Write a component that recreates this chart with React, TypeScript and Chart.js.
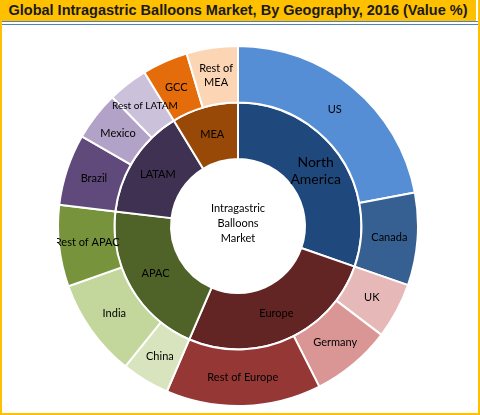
import React, { useEffect, useRef } from "react";
import { Chart, registerables } from "chart.js";

Chart.register(...registerables);

const outerLabels = [
  "US", "Canada", "UK", "Germany", "Rest of Europe", "China", "India",
  "Rest of APAC", "Brazil", "Mexico", "Rest of LATAM", "GCC", "Rest of\nMEA",
];
const outerValues = [22.0, 8.3, 5.0, 7.2, 13.9, 4.3, 8.8, 7.3, 6.4, 4.4, 3.6, 4.1, 4.6];
const outerColors = [
  "#558ED5", "#376092", "#E6B9B8", "#D99694", "#953735", "#D7E4BD", "#C3D69B",
  "#77933C", "#604A7B", "#B3A2C7", "#CCC1DA", "#E46C0A", "#FCD5B5",
];

const innerLabels = ["North\nAmerica", "Europe", "APAC", "LATAM", "MEA"];
const innerValues = [30.3, 26.1, 20.4, 14.4, 8.7];
const innerColors = ["#1F497D", "#632523", "#4F6228", "#3F3151", "#984807"];

const centerText = ["Intragastric", "Balloons", "Market"];
const titleText = "Global Intragastric Balloons Market, By Geography, 2016 (Value %)";

const FONT = "Lato, 'Open Sans', sans-serif";

const labelPlugin = {
  id: "arcLabels",
  afterDatasetsDraw(chart: any) {
    const ctx = chart.ctx;
    ctx.save();
    ctx.textAlign = "center";
    ctx.textBaseline = "middle";
    ctx.fillStyle = "#000";
    chart.data.datasets.forEach((ds: any, di: number) => {
      const meta = chart.getDatasetMeta(di);
      meta.data.forEach((arc: any, i: number) => {
        const text: string = ds.labelTexts[i] as string;
        const p = arc.tooltipPosition();
        let size = 11;
        if (text.startsWith("North")) size = 14;
        if (text === "Rest of LATAM") size = 10;
        ctx.font = `${size}px ${FONT}`;
        const lines = text.split("\n");
        const lh = size + 3;
        lines.forEach((ln, k) => {
          ctx.fillText(ln, p.x, p.y + (k - (lines.length - 1) / 2) * lh);
        });
      });
    });
    const cx = (chart.chartArea.left + chart.chartArea.right) / 2;
    const cy = (chart.chartArea.top + chart.chartArea.bottom) / 2;
    ctx.font = `11px ${FONT}`;
    centerText.forEach((ln, k) => {
      ctx.fillText(ln, cx, cy - 3 + (k - 1) * 15);
    });
    ctx.restore();
  },
};

export default function App() {
  const ref = useRef<HTMLCanvasElement>(null);
  useEffect(() => {
    if (!ref.current) return;
    const chart = new Chart(ref.current, {
      type: "doughnut",
      data: {
        labels: outerLabels,
        datasets: [
          {
            data: outerValues,
            backgroundColor: outerColors,
            borderColor: "#ffffff",
            borderWidth: 2,
            labelTexts: outerLabels,
          } as any,
          {
            data: innerValues,
            backgroundColor: innerColors,
            borderColor: "#ffffff",
            borderWidth: 2,
            labelTexts: innerLabels,
          } as any,
        ],
      },
      options: {
        responsive: false,
        animation: false,
        cutout: "37.2%",
        layout: { padding: 0 },
        plugins: {
          legend: { display: false },
          tooltip: { enabled: false },
          title: { display: false },
        },
      },
      plugins: [labelPlugin],
    });
    return () => chart.destroy();
  }, []);

  return (
    <div
      style={{
        position: "absolute",
        left: 0,
        top: 0,
        width: 480,
        height: 415,
        boxSizing: "border-box",
        background: "#fff",
        borderLeft: "2px solid #FFC000",
        borderRight: "2px solid #FFC000",
        borderBottom: "2px solid #FFC000",
        overflow: "hidden",
      }}
    >
      <div
        style={{
          position: "absolute",
          left: -2,
          top: 0,
          width: 476,
          height: 21,
          background: "#FFC000",
          color: "#1a1a1a",
          font: "bold 14.5px 'Liberation Sans', Arial, sans-serif",
          lineHeight: "21px",
          textAlign: "center",
          whiteSpace: "nowrap",
        }}
      >
        {titleText}
      </div>
      <div style={{ position: "absolute", left: 0, top: 21, width: 476, height: 1, background: "#4F81BD" }} />
      <div style={{ position: "absolute", left: 0, top: 24, width: 476, height: 1, background: "#4F81BD" }} />
      <canvas
        ref={ref}
        width={362}
        height={362}
        style={{ position: "absolute", left: 55, top: 45, width: 362, height: 362 }}
      />
    </div>
  );
}
